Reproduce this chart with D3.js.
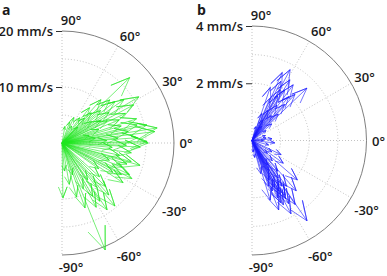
<!DOCTYPE html>
<html>
<head>
<meta charset="utf-8">
<script src="https://cdn.jsdelivr.net/npm/d3@7"></script>
<style>
  body { margin: 0; background: #fff; }
  text { font-family: "Open Sans", sans-serif; fill: #1a1a1a; }
</style>
</head>
<body>
<svg width="387" height="276"></svg>
<script>
// velocity vectors, [angle in degrees, speed in mm/s]
const vectorsA = [
  [44, 16.8], [31, 16.0], [42, 11.5], [48, 10.4], [46, 7.5], [48, 6.0], [35, 13.5],
  [38, 12.0], [28, 14.5], [33, 10.0], [25, 12.5], [40, 9.0], [52, 8.0], [55, 5.5],
  [30, 8.0], [36, 6.5], [22, 11.0], [26, 9.0], [45, 4.0], [60, 3.5], [20, 7.0],
  [9, 17.2], [7, 16.7], [13.5, 13.8], [12, 15.5], [1, 15.2], [0, 15.4], [4, 13.5],
  [16, 11.0], [10, 12.0], [5, 10.0], [18, 14.0], [3, 8.0], [-3, 14.0], [-2, 11.5],
  [8, 6.0], [15, 5.0], [-5, 9.0],
  [-15, 12.8], [-25, 13.3], [-18, 12.2], [-22, 11.5], [-28, 12.0], [-12, 10.5],
  [-20, 9.0], [-30, 10.5], [-33, 13.0], [-27, 14.0], [-35, 8.0], [-8, 12.5], [-16, 14.5],
  [-50, 14.7], [-56, 14.4], [-57, 12.4], [-45, 11.0], [-52, 10.0], [-48, 12.5],
  [-60, 11.0], [-42, 9.0], [-55, 8.0], [-62, 13.0],
  [-70.5, 12.3], [-89, 9.8], [-68, 20.6], [-75, 10.0], [-80, 7.5], [-65, 9.0],
  [-85, 5.0], [-72, 6.0],
  [70, 4.0], [80, 3.0], [65, 5.0]
];

const vectorsB = [
  [61.7, 2.81], [71, 1.96], [43.6, 2.65], [53.5, 2.42], [57, 2.1], [64, 2.3], [50, 2.0],
  [60, 1.8], [67, 1.6], [55, 1.5], [48, 1.7], [62, 1.2], [58, 2.5], [66, 2.6], [52, 1.1],
  [45, 1.3], [70, 1.0], [63, 0.8], [40, 0.9], [56, 0.6], [75, 0.5], [35, 0.6], [20, 0.5],
  [61, 2.03], [47, 2.2],
  [-6, 0.8], [5, 0.7], [10, 0.5], [-15, 0.6], [0, 0.4],
  [-26, 1.13], [-36, 1.35], [-81, 0.6], [-55.6, 3.4], [-48.7, 2.34], [-41, 2.1],
  [-69, 2.6], [-59.8, 2.55], [-73, 2.18], [-58.8, 2.24], [-62, 2.0], [-64, 1.8],
  [-60, 2.35], [-57, 1.9], [-65, 2.4], [-55, 1.6], [-67, 1.5], [-61, 1.2], [-58, 1.0],
  [-63, 2.1], [-66, 2.2], [-53, 2.0], [-68, 1.9], [-50, 1.4], [-70, 1.7], [-45, 1.0],
  [-75, 1.2], [-56, 2.7], [-62, 2.9], [-64, 2.5], [-30, 0.8], [-40, 0.7], [-85, 0.4]
];

const angleTicks = [90, 60, 30, 0, -30, -60, -90];
const radialTicksA = [10, 20];
const radialTicksB = [2, 4];

const svg = d3.select("svg");

// small nudges so the degree labels sit like the original
function labelDx(a) {
  if (Math.abs(a) === 90) return 9;
  if (a === 60) return 6;
  if (a === 30) return 3;
  if (a < 0) return 5;
  return 0;
}
function labelDy(a) {
  if (a === 90) return 1;
  if (a === -90) return 0;
  if (a < 0) return 6;
  return 0;
}

function halfCompass(opt) {
  const g = svg.append("g");
  const cx = opt.cx, cy = opt.cy, R = opt.R, max = opt.max;

  // scales from data units to pixels
  const x = d3.scaleLinear().domain([0, max]).range([cx, cx + R]);
  const y = d3.scaleLinear().domain([-max, max]).range([cy + R, cy - R]);
  const r = d3.scaleLinear().domain([0, max]).range([0, R]);

  // dotted grid circles
  [0.25, 0.5, 0.75].forEach(function(f) {
    const p = d3.path();
    p.arc(cx, cy, r(max * f), -Math.PI / 2, Math.PI / 2);
    g.append("path").attr("d", p.toString())
      .attr("fill", "none").attr("stroke", "#b4b4b4")
      .attr("stroke-width", 0.8).attr("stroke-dasharray", "1,2");
  });

  // dotted spokes
  [60, 30, 0, -30, -60].forEach(function(a) {
    const t = a * Math.PI / 180;
    g.append("line")
      .attr("x1", cx).attr("y1", cy)
      .attr("x2", x(max * Math.cos(t))).attr("y2", y(max * Math.sin(t)))
      .attr("stroke", "#b4b4b4").attr("stroke-width", 0.8)
      .attr("stroke-dasharray", "1,2");
  });
  g.append("line")
    .attr("x1", cx).attr("y1", y(max)).attr("x2", cx).attr("y2", y(-max))
    .attr("stroke", "#b4b4b4").attr("stroke-width", 0.8)
    .attr("stroke-dasharray", "1,2");

  // outer rim
  const rim = d3.path();
  rim.arc(cx, cy, R, -Math.PI / 2, Math.PI / 2);
  g.append("path").attr("d", rim.toString())
    .attr("fill", "none").attr("stroke", "#7f7f7f").attr("stroke-width", 1);

  // compass arrows
  const line = d3.line().x(d => x(d[0])).y(d => y(d[1]));
  g.selectAll(".arrow")
    .data(opt.data)
    .enter().append("path")
    .attr("class", "arrow")
    .attr("d", function(d) {
      const t = d[0] * Math.PI / 180;
      const vx = d[1] * Math.cos(t), vy = d[1] * Math.sin(t);
      return line([
        [0, 0], [vx, vy],
        [0.8 * vx - 0.08 * vy, 0.8 * vy + 0.08 * vx],
        [vx, vy],
        [0.8 * vx + 0.08 * vy, 0.8 * vy - 0.08 * vx]
      ]);
    })
    .attr("fill", "none")
    .attr("stroke", opt.color)
    .attr("stroke-width", 0.6)
    .attr("stroke-linejoin", "miter");

  // speed axis on the left
  const ax = d3.scaleLinear().domain([0, max]).range([cy, cy - R]);
  const axis = g.append("g")
    .attr("transform", "translate(" + cx + ",0)")
    .call(d3.axisLeft(ax).tickValues(opt.ticks).tickFormat(d => d + " mm/s").tickSizeOuter(0));
  axis.select(".domain").remove();
  axis.selectAll(".tick line").attr("stroke", "#333");
  axis.selectAll(".tick text")
    .style("font-family", "'Open Sans', sans-serif")
    .style("font-size", "13px").style("font-weight", 600).attr("fill", "#1a1a1a");

  // angle labels
  g.selectAll(".alab")
    .data(angleTicks)
    .enter().append("text")
    .attr("class", "alab")
    .attr("x", function(a) {
      const t = a * Math.PI / 180;
      return cx + (R + 12) * Math.cos(t) + labelDx(a);
    })
    .attr("y", function(a) {
      const t = a * Math.PI / 180;
      return cy - (R + 12) * Math.sin(t) + labelDy(a);
    })
    .attr("text-anchor", "middle")
    .attr("dominant-baseline", "central")
    .style("font-size", "13px").style("font-weight", 600)
    .text(a => a + "°");

  svg.append("text")
    .attr("x", opt.lx).attr("y", 14.5)
    .style("font-size", "14px").style("font-weight", 700)
    .text(opt.letter);
}

halfCompass({ cx: 62, cy: 143, R: 112, max: 20, data: vectorsA, ticks: radialTicksA,
  color: "#1ee61e", letter: "a", lx: 2 });
halfCompass({ cx: 252, cy: 140.5, R: 114.5, max: 4, data: vectorsB, ticks: radialTicksB,
  color: "#1a1aff", letter: "b", lx: 197 });
</script>
</body>
</html>
